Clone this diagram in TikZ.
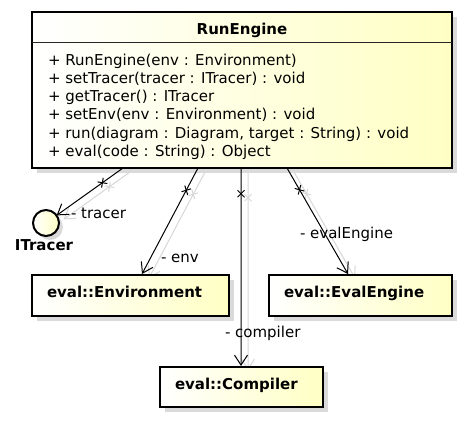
\documentclass[tikz,border=0pt]{standalone}
\usepackage{fontspec}
\setmainfont{DejaVu Sans}
\usetikzlibrary{arrows.meta,shadows,shapes.misc,backgrounds}
\definecolor{uyellow}{RGB}{255,255,196}
\definecolor{ushadow}{RGB}{218,218,218}
\definecolor{lshadow}{RGB}{215,215,215}
\newcommand{\assoc}[3]{%
  \begin{scope}[on background layer]
  \draw[draw=lshadow, line width=1bp, navarrow] ([shift={(7bp,-4bp)}]#1) -- node[pos=#3, sloped, xmark, draw=lshadow] (#1sx) {} ([shift={(7bp,-4bp)}]#2);
  \end{scope}
  \draw[black, line width=1bp, navarrow] (#1) -- node[pos=#3, sloped, xmark, draw=black] (#1x) {} (#2);
}
\begin{document}
\begin{tikzpicture}[x=1bp,y=-1bp,
  every node/.style={inner sep=0pt,outer sep=0pt},
  classbox/.style={rectangle, draw=black, line width=2.6bp, left color=white, right color=uyellow, anchor=north west,
    drop shadow={shadow xshift=5bp, shadow yshift=-5bp, fill=ushadow, opacity=1}},
  txt/.style={font=\fontsize{15bp}{18bp}\selectfont, anchor=base west},
  btxt/.style={font=\fontsize{15bp}{18bp}\selectfont\bfseries, anchor=base west},
  xmark/.style={cross out, minimum size=7bp, line width=1bp},
  navarrow/.style={-{Straight Barb[length=10bp,width=13bp]}}
]
\useasboundingbox (0,0) rectangle (464,420);

% RunEngine class
\node[classbox, minimum width=420bp, minimum height=156bp] (run) at (32,12) {};
\draw[line width=1bp, black!85] ([yshift=-30bp]run.north west) -- ([yshift=-30bp]run.north east);
\node[btxt, anchor=base] (title) at (242,34.5) {RunEngine};
\node[txt] (m1) at (48,65) {+ RunEngine(env : Environment)};
\node[txt] (m2) at (48,83.3) {+ setTracer(tracer : ITracer) : void};
\node[txt] (m3) at (48,101.6) {+ getTracer() : ITracer};
\node[txt] (m4) at (48,119.9) {+ setEnv(env : Environment) : void};
\node[txt] (m5) at (48,138.2) {+ run(diagram : Diagram, target : String) : void};
\node[txt] (m6) at (48,156.5) {+ eval(code : String) : Object};

% ITracer interface
\node[circle, draw=black, line width=2bp, minimum size=26bp, left color=white, right color=uyellow,
  drop shadow={shadow xshift=4bp, shadow yshift=-4bp, fill=ushadow, opacity=1}] (itr) at (46,223) {};
\node[btxt, anchor=base] (itrl) at (44,250) {ITracer};

% other classes
\node[classbox, minimum width=197bp, minimum height=41bp] (env) at (32,275) {};
\node[btxt] (envl) at (47,297) {eval::Environment};
\node[classbox, minimum width=183bp, minimum height=41bp] (eeng) at (269,275) {};
\node[btxt] (eengl) at (284,297) {eval::EvalEngine};
\node[classbox, minimum width=163bp, minimum height=40bp] (comp) at (160,367) {};
\node[btxt] (compl) at (175,389.5) {eval::Compiler};

% connector end points
\coordinate (s1) at ([xshift=91bp]run.south west);
\coordinate (s2) at ([xshift=166bp]run.south west);
\coordinate (s3) at ([xshift=209bp]run.south west);
\coordinate (s4) at ([xshift=255bp]run.south west);
\coordinate (e1) at ([xshift=10.6bp,yshift=7.6bp]itr.center);
\coordinate (e2) at ([xshift=110bp,yshift=1bp]env.north west);
\coordinate (e3) at ([xshift=81bp,yshift=1bp]comp.north west);
\coordinate (e4) at ([xshift=79bp,yshift=1bp]eeng.north west);

\assoc{s1}{e1}{0.31}
\assoc{s2}{e2}{0.21}
\assoc{s3}{e3}{0.13}
\assoc{s4}{e4}{0.205}

% role labels
\node[txt] (l1) at (71,218) {- tracer};
\node[txt] (l2) at (161,262) {- env};
\node[txt] (l3) at (300,238.3) {- evalEngine};
\node[txt] (l4) at (225,337) {- compiler};
\end{tikzpicture}
\end{document}
